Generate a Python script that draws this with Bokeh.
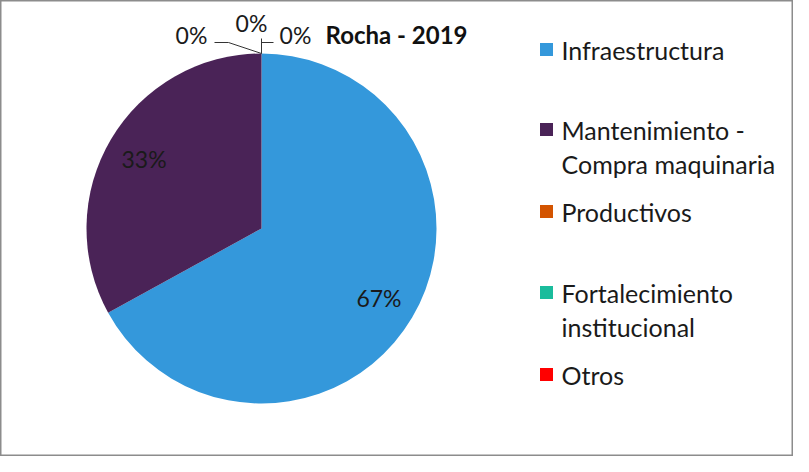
import math
from bokeh.plotting import figure
from bokeh.models import Range1d, ColumnDataSource
from bokeh.core.properties import value
from bokeh.embed import file_html
from bokeh.resources import INLINE

# ---- data ----
categories = ["Infraestructura", "Mantenimiento - Compra maquinaria", "Productivos",
              "Fortalecimiento institucional", "Otros"]
legend_lines = [["Infraestructura"], ["Mantenimiento -", "Compra maquinaria"], ["Productivos"],
                ["Fortalecimiento", "institucional"], ["Otros"]]
values = [67, 33, 0, 0, 0]
colors = ["#3498DB", "#4A2357", "#D35400", "#1ABC9C", "#FF0000"]
title = "Rocha - 2019"

FONT = "Lato"
W, H = 793, 456
# data coordinates: x = page x, y = 472 - page y
p = figure(width=W, height=H, output_backend="svg", toolbar_location=None,
           x_range=Range1d(8, 8 + W), y_range=Range1d(8, 8 + H),
           min_border=0)
p.axis.visible = False
p.grid.visible = False
p.background_fill_color = "white"
p.border_fill_color = "white"
p.outline_line_color = "#8c8c8c"
p.outline_line_width = 2

cx, cy, r = 269, 236, 175
total = sum(values)
starts, ends, mids = [], [], []
acc = 0.0
for v in values:
    a0 = math.pi / 2 - 2 * math.pi * acc / total
    acc += v
    a1 = math.pi / 2 - 2 * math.pi * acc / total
    starts.append(a0); ends.append(a1); mids.append((a0 + a1) / 2)

nz = [i for i, v in enumerate(values) if v > 0]
src = ColumnDataSource(dict(x=[cx] * len(nz), y=[cy] * len(nz),
                            s=[starts[i] for i in nz], e=[ends[i] for i in nz],
                            c=[colors[i] for i in nz]))
p.wedge(x="x", y="y", radius=r, start_angle="s", end_angle="e", direction="clock",
        fill_color="c", line_color=None, source=src)

# inside labels
lx = [cx + 0.78 * r * math.cos(mids[i]) for i in nz]
ly = [cy + 0.78 * r * math.sin(mids[i]) for i in nz]
lt = [f"{round(100 * values[i] / total)}%" for i in nz]
p.text(x=lx, y=ly, text=lt, text_font=value(FONT), text_font_size="23px",
       text_align="center", text_baseline="middle", text_color="#1a1a1a")

# zero-value labels with leader lines (outside at the top)
zero_idx = [i for i, v in enumerate(values) if v == 0]
zpos = [(199, 472 - 42), (259, 472 - 30), (303, 472 - 42)]
zt = [f"{round(100 * values[i] / total)}%" for i in zero_idx]
p.text(x=[q[0] for q in zpos], y=[q[1] for q in zpos], text=zt,
       text_font=value(FONT), text_font_size="23px",
       text_align="center", text_baseline="middle", text_color="#1a1a1a")
top = 472 - 61
p.multi_line(xs=[[269, 236, 222], [269, 269], [269, 269, 281]],
             ys=[[top, 472 - 50, 472 - 50], [top, 472 - 46], [top, 472 - 50, 472 - 50]],
             line_color="#333333", line_width=1)

# title
p.text(x=[333], y=[472 - 42], text=[title], text_font=value(FONT),
       text_font_size="24px", text_font_style="bold", text_align="left",
       text_baseline="middle", text_color="#111111")

# legend
row_y = [57, 137, 219, 300, 382]
line_h = 34
tx, ty, tt = [], [], []
for i, lines in enumerate(legend_lines):
    for k, s in enumerate(lines):
        tx.append(569); ty.append(472 - (row_y[i] + k * line_h)); tt.append(s)
p.rect(x=[554] * len(colors), y=[472 - yy for yy in row_y], width=13, height=13,
       fill_color=colors, line_color=None)
p.text(x=tx, y=ty, text=tt, text_font=value(FONT), text_font_size="25px",
       text_align="left", text_baseline="middle", text_color="#1a1a1a")

open("out.html", "w").write(file_html(p, INLINE))
